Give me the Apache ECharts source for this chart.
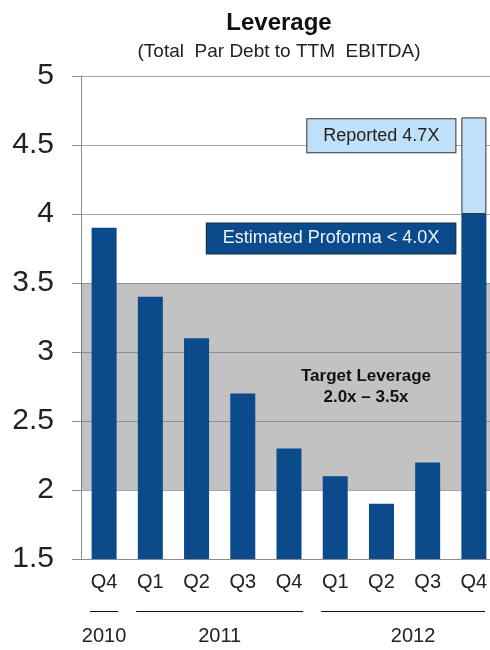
<!DOCTYPE html>
<html>
<head>
<meta charset="utf-8">
<script src="https://cdn.jsdelivr.net/npm/echarts@6/dist/echarts.min.js"></script>
<style>
  html, body { margin: 0; padding: 0; background: #fff; }
  #chart { width: 490px; height: 650px; }
</style>
</head>
<body>
<div id="chart"></div>
<script>
const quarters = ['Q4', 'Q1', 'Q2', 'Q3', 'Q4', 'Q1', 'Q2', 'Q3', 'Q4']
const quarterYears = ['2010', '2011', '2011', '2011', '2011', '2012', '2012', '2012', '2012']
const leverage = [3.9, 3.4, 3.1, 2.7, 2.3, 2.1, 1.9, 2.2, 4.0]
const reportedExtra = [null, null, null, null, null, null, null, null, 0.7]
const years = ['2010', '2011', '2012']
const yMin = 1.5
const yMax = 5
const yStep = 0.5
const targetLow = 2.0
const targetHigh = 3.5

const font = "'Liberation Sans', Arial, sans-serif"
const last = leverage.length - 1
const categories = quarters.map((q, i) => q + ' ' + quarterYears[i])

const chart = echarts.init(document.getElementById('chart'))

const option = {
  animation: false,
  textStyle: { fontFamily: font },
  title: {
    text: 'Leverage',
    subtext: '(Total  Par Debt to TTM  EBITDA)',
    left: 274,
    textAlign: 'center',
    top: 6,
    itemGap: 7,
    textStyle: { fontFamily: font, fontSize: 24, fontWeight: 'bold', color: '#111' },
    subtextStyle: { fontFamily: font, fontSize: 19, color: '#222' },
  },
  grid: {
    left: 81,
    top: 76,
    width: 416,
    height: 483,
    outerBoundsMode: 'none',
  },
  xAxis: {
    type: 'category',
    data: categories,
    axisLine: { lineStyle: { color: '#8c8c8c' } },
    axisTick: { length: 5, lineStyle: { color: '#8c8c8c' } },
    axisLabel: {
      margin: 13,
      fontSize: 20,
      color: '#222',
      fontFamily: font,
      formatter: (v) => v.split(' ')[0],
    },
  },
  yAxis: {
    type: 'value',
    min: yMin,
    max: yMax,
    interval: yStep,
    axisLine: { show: true, lineStyle: { color: '#8c8c8c' } },
    axisTick: { show: true, length: 9, lineStyle: { color: '#8c8c8c' } },
    axisLabel: { margin: 27, fontSize: 30, color: '#222', fontFamily: font },
    splitLine: { lineStyle: { color: '#a6a6a6' } },
  },
  series: [
    {
      name: 'Leverage',
      type: 'bar',
      stack: 'lev',
      barWidth: 25,
      itemStyle: { color: '#0b4a8b' },
      data: leverage.map((v, i) => i !== last ? v : {
        value: v,
        label: {
          show: true,
          position: 'left',
          distance: 6,
          offset: [0, -148],
          formatter: 'Estimated Proforma < 4.0X',
          fontSize: 18,
          lineHeight: 22,
          color: '#eef4ff',
          backgroundColor: '#0b4a8b',
          borderColor: '#1c2a3a',
          borderWidth: 1,
          padding: [4, 16, 4, 16],
        },
      }),
      markArea: {
        silent: true,
        itemStyle: { color: 'rgba(110,110,110,0.42)' },
        label: {
          show: true,
          position: 'inside',
          offset: [77, 0],
          formatter: 'Target Leverage\n2.0x \u2013 3.5x',
          fontSize: 17,
          lineHeight: 21,
          fontWeight: 'bold',
          color: '#111',
        },
        data: [[{ yAxis: targetLow }, { yAxis: targetHigh }]],
      },
    },
    {
      name: 'Reported',
      type: 'bar',
      stack: 'lev',
      barWidth: 25,
      itemStyle: { color: '#c0e0fa', borderColor: '#333', borderWidth: 1 },
      data: reportedExtra.map((v, i) => i !== last ? v : {
        value: v,
        label: {
          show: true,
          position: 'left',
          distance: 6,
          offset: [0, -30],
          formatter: 'Reported 4.7X',
          fontSize: 18,
          lineHeight: 21,
          color: '#222',
          backgroundColor: '#c0e0fa',
          borderColor: '#333',
          borderWidth: 1,
          padding: [6, 16, 6, 16],
        },
      }),
    },
  ],
}

chart.setOption(option)

// year groups under the quarter labels
const half = (chart.convertToPixel({ xAxisIndex: 0 }, 1) - chart.convertToPixel({ xAxisIndex: 0 }, 0)) / 2
const yearGraphics = []
years.forEach((y) => {
  const first = quarterYears.indexOf(y)
  const lastIdx = quarterYears.lastIndexOf(y)
  const x0 = chart.convertToPixel({ xAxisIndex: 0 }, first) - half + 9
  const x1 = Math.min(chart.convertToPixel({ xAxisIndex: 0 }, lastIdx) + half - 9, 485)
  yearGraphics.push({
    type: 'line',
    shape: { x1: x0, y1: 611.5, x2: x1, y2: 611.5 },
    style: { stroke: '#111', lineWidth: 1 },
  })
  yearGraphics.push({
    type: 'text',
    x: (x0 + x1) / 2 + (y === '2012' ? 10 : 0),
    y: 636,
    style: {
      text: y,
      font: '20px ' + font,
      fill: '#222',
      textAlign: 'center',
      textVerticalAlign: 'middle',
    },
  })
})
chart.setOption({ graphic: yearGraphics })
</script>
</body>
</html>
